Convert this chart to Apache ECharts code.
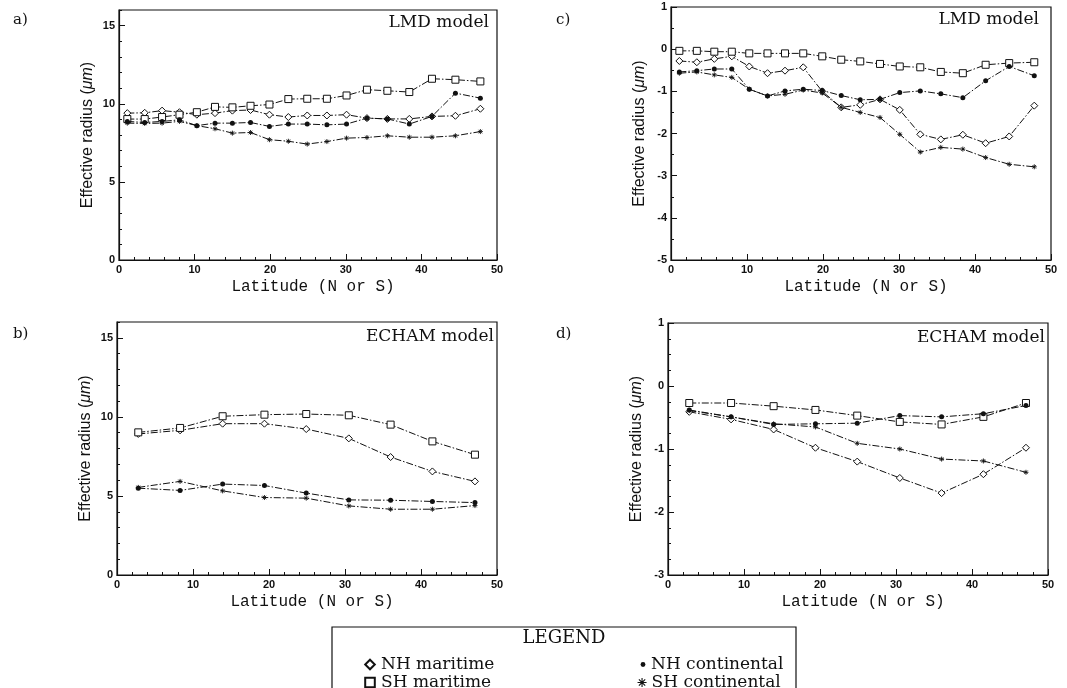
<!DOCTYPE html>
<html>
<head>
<meta charset="utf-8">
<title>Effective radius by latitude</title>
<script src="https://cdn.jsdelivr.net/npm/echarts@6/dist/echarts.min.js"></script>
<style>
  html, body { margin: 0; padding: 0; background: #fff; }
  #chart { width: 1067px; height: 688px; }
</style>
</head>
<body>
<div id="chart"></div>
<script>
// Latitude of grid rows (degrees, N or S)
const latLMD = [1.1, 3.4, 5.7, 8.0, 10.3, 12.7, 15.0, 17.4, 19.9, 22.4, 24.9, 27.5, 30.1, 32.8, 35.5, 38.4, 41.4, 44.5, 47.8];
const latECHAM = [2.8, 8.3, 13.9, 19.4, 24.9, 30.5, 36.0, 41.5, 47.1];

// a) LMD model, effective radius (µm)
const lmdNHmar = [9.40, 9.42, 9.56, 9.46, 9.30, 9.40, 9.56, 9.60, 9.30, 9.15, 9.25, 9.25, 9.30, 9.08, 9.03, 9.03, 9.19, 9.23, 9.68];
const lmdSHmar = [9.02, 9.02, 9.15, 9.30, 9.46, 9.80, 9.77, 9.87, 9.95, 10.30, 10.32, 10.32, 10.53, 10.90, 10.83, 10.75, 11.60, 11.54, 11.43];
const lmdNHcon = [8.87, 8.80, 8.87, 8.97, 8.60, 8.76, 8.76, 8.80, 8.55, 8.70, 8.70, 8.65, 8.70, 9.08, 9.03, 8.70, 9.19, 10.68, 10.36];
const lmdSHcon = [8.76, 8.74, 8.76, 8.87, 8.60, 8.40, 8.12, 8.16, 7.70, 7.60, 7.42, 7.58, 7.80, 7.84, 7.95, 7.86, 7.86, 7.95, 8.22];

// c) LMD model, change in effective radius (µm)
const lmdNHmarD = [-0.28, -0.31, -0.23, -0.17, -0.41, -0.57, -0.51, -0.43, -1.00, -1.38, -1.32, -1.19, -1.44, -2.02, -2.14, -2.03, -2.23, -2.07, -1.34];
const lmdSHmarD = [-0.04, -0.04, -0.06, -0.06, -0.10, -0.10, -0.10, -0.10, -0.17, -0.25, -0.29, -0.35, -0.41, -0.43, -0.54, -0.57, -0.37, -0.33, -0.31];
const lmdNHconD = [-0.54, -0.51, -0.47, -0.47, -0.95, -1.11, -0.99, -0.95, -0.98, -1.10, -1.20, -1.19, -1.03, -0.99, -1.06, -1.15, -0.75, -0.41, -0.63];
const lmdSHconD = [-0.57, -0.54, -0.61, -0.67, -0.95, -1.11, -1.07, -0.97, -1.04, -1.38, -1.50, -1.62, -2.02, -2.44, -2.33, -2.37, -2.57, -2.73, -2.79];

// b) ECHAM model, effective radius (µm)
const echNHmar = [8.92, 9.15, 9.57, 9.57, 9.23, 8.64, 7.46, 6.55, 5.92];
const echSHmar = [9.02, 9.30, 10.04, 10.14, 10.18, 10.10, 9.51, 8.45, 7.61];
const echNHcon = [5.49, 5.35, 5.75, 5.66, 5.18, 4.75, 4.73, 4.65, 4.58];
const echSHcon = [5.54, 5.92, 5.32, 4.90, 4.86, 4.37, 4.16, 4.16, 4.39];

// d) ECHAM model, change in effective radius (µm)
const echNHmarD = [-0.41, -0.53, -0.69, -0.98, -1.20, -1.46, -1.70, -1.40, -0.98];
const echSHmarD = [-0.27, -0.27, -0.32, -0.38, -0.47, -0.57, -0.61, -0.49, -0.27];
const echNHconD = [-0.38, -0.49, -0.61, -0.60, -0.59, -0.47, -0.49, -0.44, -0.31];
const echSHconD = [-0.39, -0.49, -0.60, -0.65, -0.91, -1.00, -1.16, -1.19, -1.37];

// Axis ranges and tick steps
const xRange = [0, 50];
const xStep = 10;
const radiusRange = [0, 16];
const radiusStep = 5;
const deltaRangeLMD = [-5, 1];
const deltaRangeECHAM = [-3, 1];
const deltaStep = 1;

const seriesNames = ['NH maritime', 'SH maritime', 'NH continental', 'SH continental'];
const panelLabels = ['a)', 'b)', 'c)', 'd)'];
const modelNames = ['LMD model', 'ECHAM model'];

const SANS = 'Liberation Sans';
const SERIF = 'DejaVu Serif';
const MONO = 'Liberation Mono';
const INK = '#111';

const ASTERISK = 'path://M4 0V8M0 4H8M1.2 1.2L6.8 6.8M6.8 1.2L1.2 6.8';

const markerStyles = [
  { symbol: 'diamond', symbolSize: 7, itemStyle: { color: '#fff', borderColor: INK, borderWidth: 1 } },
  { symbol: 'rect', symbolSize: 7, itemStyle: { color: '#fff', borderColor: INK, borderWidth: 1 } },
  { symbol: 'circle', symbolSize: 5, itemStyle: { color: INK, borderColor: INK, borderWidth: 0 } },
  { symbol: ASTERISK, symbolSize: 5, itemStyle: { color: INK, borderColor: INK, borderWidth: 0.9 } }
];

// Plot areas: a (top left), b (bottom left), c (top right), d (bottom right)
const grids = [
  { left: 119, top: 10, width: 378, height: 250 },
  { left: 117, top: 322, width: 380, height: 253 },
  { left: 671, top: 7, width: 380, height: 253 },
  { left: 668, top: 323, width: 380, height: 252 }
].map(g => Object.assign({ show: true, borderColor: INK, borderWidth: 1.2, backgroundColor: 'transparent' }, g));

function xAxisFor(gridIndex) {
  return {
    type: 'value', gridIndex, min: xRange[0], max: xRange[1], interval: xStep,
    name: 'Latitude (N or S)', nameLocation: 'middle', nameGap: 19,
    nameTextStyle: { fontFamily: MONO, fontSize: 16, color: INK, padding: [0, 0, 0, 10] },
    axisLine: { show: true, onZero: false, lineStyle: { color: INK, width: 1.2 } },
    axisTick: { show: true, inside: true, length: 6, lineStyle: { color: INK } },
    minorTick: { show: true, splitNumber: 5, length: 3, lineStyle: { color: INK } },
    splitLine: { show: false }, minorSplitLine: { show: false },
    axisLabel: { fontFamily: SANS, fontWeight: 'bold', fontSize: 11, color: INK, margin: 4 }
  };
}

const yName = 'Effective radius ({i|μm})';
const yNameStyle = {
  fontFamily: SANS, fontSize: 16, color: INK,
  rich: { i: { fontFamily: SANS, fontSize: 16, fontStyle: 'italic', color: INK } }
};

function yAxisMajor(gridIndex, range, step, minorSplit) {
  return {
    type: 'value', gridIndex, min: range[0], max: range[1], interval: step,
    name: yName, nameLocation: 'middle', nameGap: 23, nameRotate: 90, nameTextStyle: yNameStyle,
    axisLine: { show: true, onZero: false, lineStyle: { color: INK, width: 1.2 } },
    axisTick: { show: true, inside: true, length: 6, lineStyle: { color: INK } },
    minorTick: { show: minorSplit > 0, splitNumber: minorSplit || 5, length: 3, lineStyle: { color: INK } },
    splitLine: { show: false }, minorSplitLine: { show: false },
    axisLabel: { fontFamily: SANS, fontWeight: 'bold', fontSize: 11, color: INK, margin: 4, showMaxLabel: range[1] % step === 0 }
  };
}

// Unit-step ticks for the radius axes (their top does not fall on a labelled step)
function yAxisUnitTicks(gridIndex, range) {
  return {
    type: 'value', gridIndex, min: range[0], max: range[1], interval: 1, position: 'left',
    axisLine: { show: false, onZero: false },
    axisTick: { show: true, inside: true, length: 3, lineStyle: { color: INK } },
    axisLabel: { show: false }, splitLine: { show: false }
  };
}

const xAxes = [0, 1, 2, 3].map(xAxisFor);
const yAxes = [
  yAxisMajor(0, radiusRange, radiusStep, 0),
  yAxisMajor(1, radiusRange, radiusStep, 0),
  yAxisMajor(2, deltaRangeLMD, deltaStep, 2),
  yAxisMajor(3, deltaRangeECHAM, deltaStep, 4),
  yAxisUnitTicks(0, radiusRange),
  yAxisUnitTicks(1, radiusRange)
];

const panels = [
  { lat: latLMD, values: [lmdNHmar, lmdSHmar, lmdNHcon, lmdSHcon] },
  { lat: latECHAM, values: [echNHmar, echSHmar, echNHcon, echSHcon] },
  { lat: latLMD, values: [lmdNHmarD, lmdSHmarD, lmdNHconD, lmdSHconD] },
  { lat: latECHAM, values: [echNHmarD, echSHmarD, echNHconD, echSHconD] }
];

const series = [];
panels.forEach((p, gi) => {
  p.values.forEach((vals, si) => {
    series.push(Object.assign({
      type: 'line', name: seriesNames[si], xAxisIndex: gi, yAxisIndex: gi,
      data: p.lat.map((x, i) => [x, vals[i]]),
      lineStyle: { color: INK, width: 1, type: [7, 2, 1.5, 2] },
      showAllSymbol: true, animation: false, silent: true, z: 3 + si
    }, markerStyles[si]));
  });
});

// Panel letters and model names
const textEls = [];
const letterPos = [[13, 13], [13, 327], [556, 13], [556, 327]];
panelLabels.forEach((t, i) => {
  textEls.push({ type: 'text', left: letterPos[i][0], top: letterPos[i][1],
    style: { text: t, font: '15px "' + SERIF + '"', fill: INK } });
});
const modelPos = [[489, 14, 0], [494, 328, 1], [1039, 11, 0], [1045, 329, 1]];
modelPos.forEach(([x, y, m]) => {
  textEls.push({ type: 'text', x, y,
    style: { text: modelNames[m], font: '17px "' + SERIF + '"', fill: INK, align: 'right', verticalAlign: 'top' } });
});

// Legend frame and heading
textEls.push({ type: 'rect', shape: { x: 332, y: 627, width: 464, height: 80 },
  style: { fill: 'none', stroke: INK, lineWidth: 1.2 }, silent: true });
textEls.push({ type: 'text', x: 564, y: 629,
  style: { text: 'LEGEND', font: '18px "' + SERIF + '"', fill: INK, align: 'center', verticalAlign: 'top' } });

// One legend entry per component, placed in two columns inside the frame
const legendSlots = [
  { left: 363, top: 656, w: 12, h: 12 },
  { left: 363, top: 674, w: 12, h: 12 },
  { left: 639, top: 656, w: 6, h: 6 },
  { left: 637, top: 674, w: 9, h: 9, icon: ASTERISK }
];
const legends = seriesNames.map((name, i) => {
  const s = legendSlots[i];
  const item = s.icon
    ? { name, icon: s.icon, itemStyle: { color: INK, borderColor: INK, borderWidth: 1.1 } }
    : name;
  return {
    left: s.left, top: s.top, data: [item],
    itemWidth: s.w, itemHeight: s.h, selectedMode: false, padding: 0,
    textStyle: { fontFamily: SERIF, fontSize: 17, color: INK },
    lineStyle: { opacity: 0 }
  };
});

const option = {
  backgroundColor: '#fff',
  animation: false,
  grid: grids,
  xAxis: xAxes,
  yAxis: yAxes,
  series,
  legend: legends,
  graphic: textEls
};

const chart = echarts.init(document.getElementById('chart'), null, { renderer: 'canvas' });
chart.setOption(option);
</script>
</body>
</html>
